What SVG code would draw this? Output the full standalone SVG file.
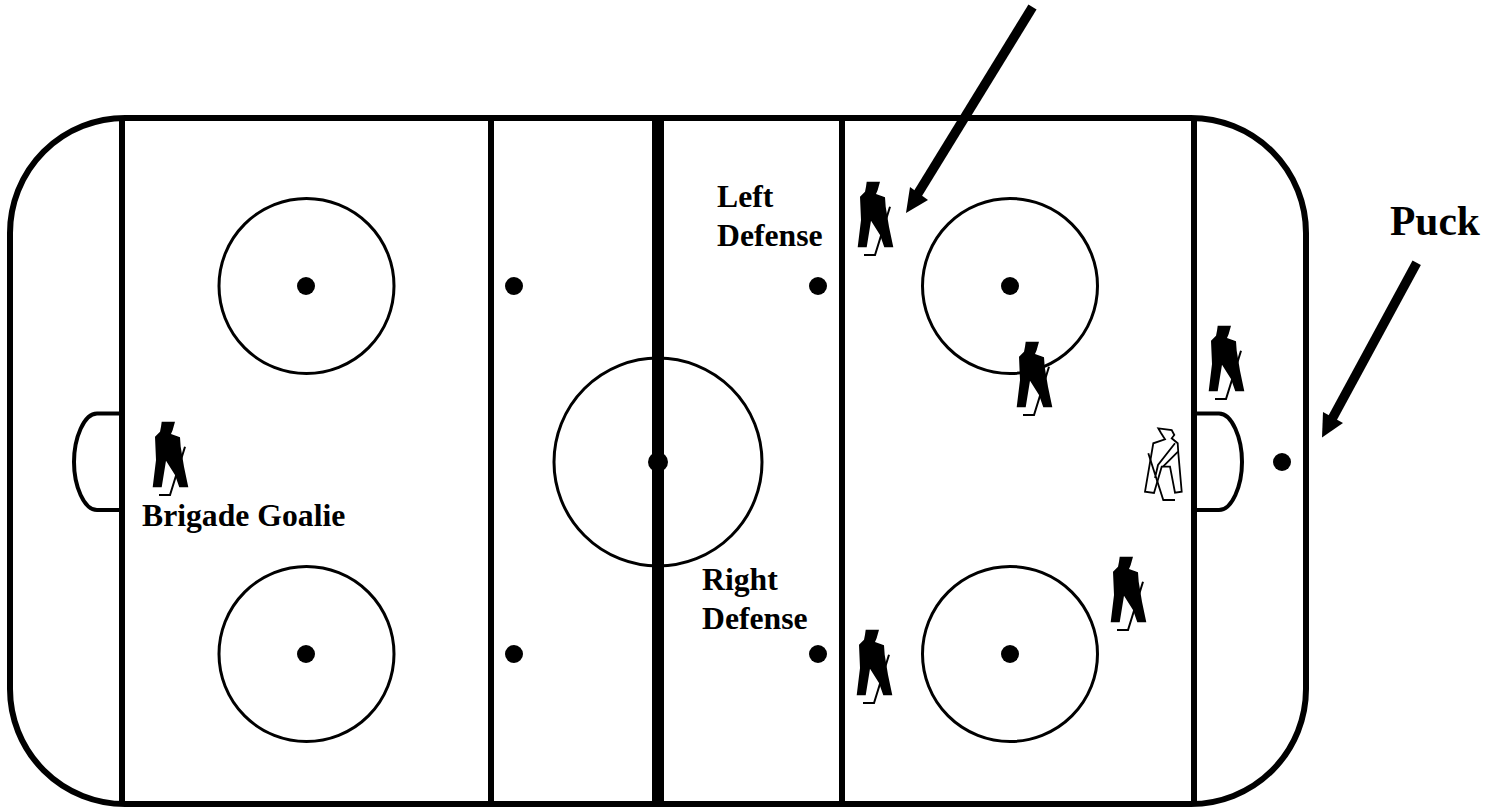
<svg xmlns="http://www.w3.org/2000/svg" xmlns:xlink="http://www.w3.org/1999/xlink" width="1490" height="809" viewBox="0 0 1490 809">
<style>
.r{fill:none;stroke:#000;stroke-width:6}
.k{fill:none;stroke:#000;stroke-width:4}
.c{fill:none;stroke:#000;stroke-width:3}
.d{fill:#000}
.t{font-family:"Liberation Serif","Times New Roman",serif;font-weight:bold;font-size:31.7px;fill:#000}
.a{stroke:#000;stroke-width:9.5;fill:none}
</style>
<defs>
<g id="pl">
<polygon fill="#000" points="27.7,11.7 41,11.7 38.7,20 37,24 46,27.3 46.7,36.7 50,56.7 54.3,77.3 45.3,77.3 41,65 32,50.7 27.7,77.3 18.7,77.3 22,50 21,26.7 26,21.7 27,16.7"/>
<polyline points="51,36.7 36,85 25,85" fill="none" stroke="#000" stroke-width="2"/>
</g>
</defs>
<rect width="1490" height="809" fill="#fff"/>
<g id="rink">
<rect class="r" x="10" y="118" width="1296" height="686" rx="115" ry="115"/>
<path class="r" d="M122,118V804M491,118V804M842,118V804M1194,118V804"/>
<path d="M658,118V804" stroke="#000" stroke-width="12"/>
<path class="k" d="M122,413.5H97C84,413.5 74,438 74,462C74,486 84,510 97,510H122"/>
<path class="k" d="M1194,413.5H1219C1232,413.5 1242,438 1242,462C1242,486 1232,510 1219,510H1194"/>
<circle class="c" cx="306.5" cy="286" r="87.5"/>
<circle class="c" cx="1010" cy="286" r="87.5"/>
<circle class="c" cx="306.5" cy="654" r="87.5"/>
<circle class="c" cx="1010" cy="654" r="87.5"/>
<circle class="c" cx="658" cy="462" r="104"/>
<circle class="d" cx="306" cy="286" r="9"/>
<circle class="d" cx="514" cy="286" r="9"/>
<circle class="d" cx="818" cy="286" r="9"/>
<circle class="d" cx="1010" cy="286" r="9"/>
<circle class="d" cx="306" cy="654" r="9"/>
<circle class="d" cx="514" cy="654" r="9"/>
<circle class="d" cx="818" cy="654" r="9"/>
<circle class="d" cx="1010" cy="654" r="9"/>
<circle class="d" cx="658" cy="462" r="10"/>
<circle class="d" cx="1282" cy="462" r="9"/>
</g>
<g id="player-left-defense"><use href="#pl" xlink:href="#pl" transform="translate(839,170)"/></g>
<g id="player-center"><use href="#pl" xlink:href="#pl" transform="translate(998,330)"/></g>
<g id="player-wing-top"><use href="#pl" xlink:href="#pl" transform="translate(1190,314)"/></g>
<g id="player-wing-bottom"><use href="#pl" xlink:href="#pl" transform="translate(1092,545)"/></g>
<g id="player-right-defense"><use href="#pl" xlink:href="#pl" transform="translate(838,618)"/></g>
<g id="player-goalie"><use href="#pl" xlink:href="#pl" transform="translate(134,410)"/></g>
<g id="player-opponent" fill="none" stroke="#000" stroke-width="1.8">
<polygon points="1158.3,428.3 1171.7,430 1174.3,435 1171.7,438.3 1177.7,443.3 1178.3,453 1181.7,491.7 1175,492.7 1170,466.7 1161.7,466.7 1154,493 1145,491.7 1153.3,443.3 1165,439.3 1161,433"/>
<path d="M1175,443.3L1158,465 1155,478M1178,451.7L1163,466.7M1148.3,453.3L1163.3,500H1175"/>
</g>
<g id="connectors">
<line class="a" x1="1032.5" y1="7" x2="917" y2="195"/>
<polygon class="d" points="906,213 910,187 928,200"/>
<line class="a" x1="1416.7" y1="262.7" x2="1332" y2="419"/>
<polygon class="d" points="1322,437.5 1323,412 1343,423"/>
</g>
<g id="labels">
<text class="t" x="717" y="207">Left</text>
<text class="t" x="717" y="246">Defense</text>
<text class="t" x="702" y="590">Right</text>
<text class="t" x="702" y="629">Defense</text>
<text class="t" x="142" y="526">Brigade Goalie</text>
<text class="t" x="1390" y="234.5" style="font-size:41.5px">Puck</text>
</g>
</svg>
